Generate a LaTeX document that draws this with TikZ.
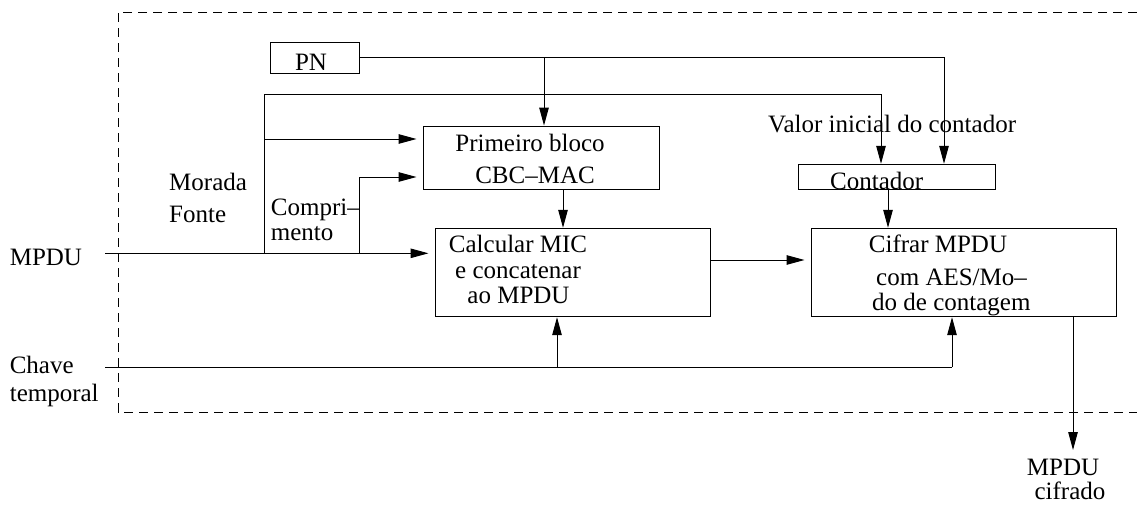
\documentclass[tikz,border=0pt]{standalone}
\usepackage{fontspec}
\setmainfont{Liberation Serif}
\usetikzlibrary{arrows.meta}
\begin{document}
\begin{tikzpicture}[x=1pt,y=-1pt,
  lbl/.style={inner sep=0pt, font=\fontsize{25}{30}\selectfont},
  blk/.style={draw, line width=1pt, inner sep=0pt},
  wire/.style={line width=1pt},
  arr/.style={line width=1pt, -{Triangle[length=18pt,width=9.5pt]}},
  gap/.style={shorten >=6pt},
  frame/.style={line width=1pt, dash pattern=on 9pt off 6pt}]
\useasboundingbox (0,0) rectangle (1137,504);

% dashed boundary of the encryption unit
\draw[frame] (1137,12.3) -- (118,12.3) -- (118,412) -- (1137,412);

% blocks
\node[blk, minimum width=88.6pt, minimum height=31.7pt] (pn) at (315,58) {};
\node[blk, minimum width=236pt, minimum height=63.3pt] (prim) at (541,157.7) {};
\node[blk, minimum width=275pt, minimum height=88.4pt] (calc) at (572.5,272.5) {};
\node[blk, minimum width=305pt, minimum height=88.4pt] (cif) at (963.5,272.5) {};
\node[blk, minimum width=197.7pt, minimum height=25pt] (ctr) at (896.9,176.8) {};

% block texts
\node[lbl, anchor=base] (tpn) at (311,70) {PN};
\node[lbl, anchor=base] (tprim1) at (530,151.7) {Primeiro bloco};
\node[lbl, anchor=base] (tprim2) at (535,183.3) {CBC–MAC};
\node[lbl, anchor=base] (tcalc1) at (518,252) {Calcular MIC};
\node[lbl, anchor=base] (tcalc2) at (518,278.5) {e concatenar};
\node[lbl, anchor=base] (tcalc3) at (518.5,303.5) {ao MPDU};
\node[lbl, anchor=base] (tcif1) at (938,252.7) {Cifrar MPDU};
\node[lbl, anchor=base west] (tcif2) at (876,285) {com AES/Mo–};
\node[lbl, anchor=base west] (tcif3) at (872,310) {do de contagem};
\node[lbl, anchor=base west] (tctr) at (830,189.3) {Contador};

% free labels
\node[lbl, anchor=base west] (tvalor) at (768,132.3) {Valor inicial do contador};
\node[lbl, anchor=base west] (tmor1) at (169,190) {Morada};
\node[lbl, anchor=base west] (tmor2) at (169,222.7) {Fonte};
\node[lbl, anchor=base west] (tcomp1) at (270.7,215.7) {Compri–};
\node[lbl, anchor=base west] (tcomp2) at (270.7,240.7) {mento};
\node[lbl, anchor=base west] (tin) at (9.6,265) {MPDU};
\node[lbl, anchor=base west] (tkey1) at (9.6,373.3) {Chave};
\node[lbl, anchor=base west] (tkey2) at (9.6,401) {temporal};
\node[lbl, anchor=base] (tout1) at (1063,475) {MPDU};
\node[lbl, anchor=base] (tout2) at (1070,499.3) {cifrado};

% routing points
\coordinate (inS) at (105,253.3);
\coordinate (keyS) at (105,367);
\coordinate (pnJ) at (544,57.3);
\coordinate (pnR) at (944,57.3);
\coordinate (mfB) at (264.3,253.3);
\coordinate (mfT) at (264.3,94.3);
\coordinate (mfR) at (881,94.3);
\coordinate (mfA) at (264.3,139);
\coordinate (cpB) at (359.3,253.3);
\coordinate (cpT) at (359.3,177);
\coordinate (pcX) at (563,0);
\coordinate (ccY) at (0,260);
\coordinate (ctX) at (888,0);
\coordinate (kcX) at (557,367);
\coordinate (kfX) at (952,367);
\coordinate (outX) at (1073,0);
\coordinate (outE) at (1073,450);

% PN feeds the first block and the counter
\draw[wire] (pn.east |- pnJ) -- (pnR);
\draw[arr] (pnJ) -- (pnJ |- prim.north);
\draw[arr] (pnR) -- (pnR |- ctr.north);

% source address
\draw[wire] (mfB) -- (mfT) -- (mfR);
\draw[arr] (mfR) -- (mfR |- ctr.north);
\draw[arr, gap] (mfA) -- (mfA -| prim.west);

% length
\draw[wire] (cpB) -- (cpT);
\draw[arr, gap] (cpT) -- (cpT -| prim.west);

% MPDU input
\draw[arr, gap] (inS) -- (inS -| calc.west);

% first block -> MIC
\draw[arr] (prim.south -| pcX) -- (calc.north -| pcX);

% MIC -> encryption
\draw[arr, gap] (calc.east |- ccY) -- (cif.west |- ccY);

% counter -> encryption
\draw[arr] (ctr.south -| ctX) -- (cif.north -| ctX);

% temporal key
\draw[wire] (keyS) -- (kfX);
\draw[arr] (kfX) -- (kfX |- cif.south);
\draw[arr] (kcX) -- (kcX |- calc.south);

% encrypted output
\draw[arr] (cif.south -| outX) -- (outE);
\end{tikzpicture}
\end{document}
